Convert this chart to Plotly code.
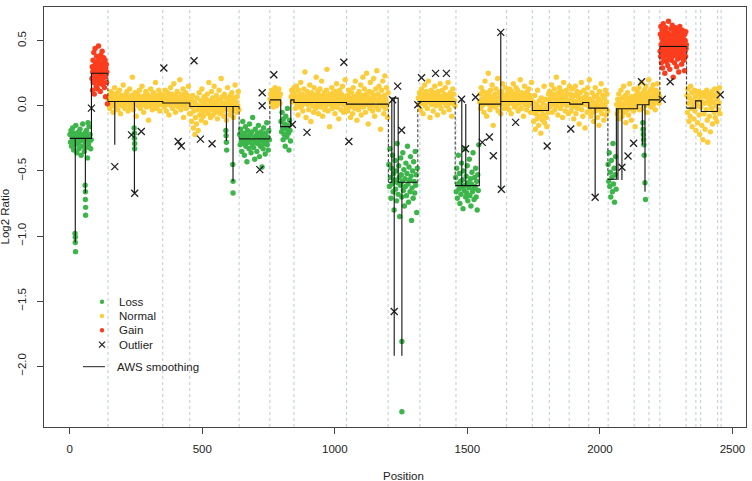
import numpy as np
import plotly.graph_objects as go

# ---------------- DATA ----------------
# Log2 ratios of probes, per run of probes (run start / end positions below)
loss1 = [-.22,-.28,-.19,-.31,-.25,-.17,-.27,-.34,-.21,-.24,-.30,-.15,-.26,-.36,-.23,-.29,-.20,-.33,-.25,-.18,
         -.27,-.38,-.22,-.31,-.14,-.26,-.24,-.35,-.21,-.28,-.32,-.19,-.25,-.40,-.23,-.30,-.16,-.27,-.22,-.33,-.26]
gain1 = [.21,.30,.12,.26,.35,.18,.28,.41,.23,.09,.31,.25,.44,.19,.27,.33,.15,.29,.38,.22,.26,.13,.34,.24,.30,
         .46,.20,.28,.17,.36,.25,.32,.11,.27,.39,.23,.29,.19,.31,.42,.26,.21,.33,.16,.28,.37,.24,.30,.14,.27,
         .35,.22,.07,.29,.25,.32,.18,.26]
norm1 = [.05,.01,.08,-.02,.04,.11,.00,.06,.03,-.05,.09,.02,.14,.04,-.01,.07,.03,.10,-.03,.05,.01,.12,.06,-.06,
         .03,.08,.00,.05,.16,.02,.07,-.02,.04,.09,.01,.11,.05,-.04,.03,.06,.13,-.01,.04,.08,.02,.22,.05,-.03,
         .07,.01,.10,.04,-.08,.06,.03,.09,.00,.05,.12,.02,-.02,.07,.04,.15,.01,.06,-.05,.03,.08,.02,.11,-.01,
         .05,.09,.03,-.11,.06,.00,.04,.13,.02,.07,-.03,.05,.10,.01,.06,.03,.18,-.02,.04,.08,.00,.05,.12,.02,
         -.04,.07,.03,.09,.01,.06]
norm2 = [.03,.08,-.01,.05,.12,.02,-.04,.06,.01,.10,.04,-.07,.07,.02,.14,.00,.05,.09,-.02,.03,.17,.04,.06,-.05,
         .08,.01,.11,.03,-.01,.06,.02,.20,.05,-.03,.09,.00,.04,.13,-.09,.07,.02,.05,.10,-.02,.03,.08,.01,.15,
         .04,-.06]
norm3 = [.02,-.06,.05,-.12,-.01,.08,-.17,-.04,.03,-.22,-.09,.01,-.14,.06,-.03,-.19,.00,.10,-.07,-.02,.04,-.11,
         .13,-.05,.01,-.08,.07,-.02,.03,-.13,.05,-.04,.09,.00,-.06,.18,-.01,.04,-.09,.02,.11,-.03,.06,-.07,.00,
         .15,-.02,.03,-.05,.08,.01,-.10,.05,-.03,.12,.00,-.06,.04,.21,-.01,.07,-.04,.02,-.08,.09,.01,-.02,.06,
         -.11,.03,.14,-.03,.05,.00,-.07,.08,.02,-.04,.10,-.01,.04,-.09,.06,.01,.16,-.02,.03,-.05,.07,.00,.11,-.03]
loss2 = [-.22,-.30,-.18,-.27,-.35,-.24,-.12,-.29,-.21,-.38,-.26,-.16,-.31,-.23,-.43,-.19,-.28,-.25,-.33,-.14,
         -.27,-.22,-.36,-.20,-.30,-.09,-.26,-.32,-.24,-.41,-.18,-.28,-.23,-.35,-.21,-.29,-.15,-.26,-.39,-.24,
         -.31,-.20,-.27,-.47,-.22,-.33,-.17,-.29,-.25,-.37,-.21,-.28,-.13,-.30,-.24,-.34,-.19,-.26]
norm4 = [.05,.09,.02,.12,.04,.07,-.01,.10,.05,.14,.03,.08,.00,.06,.11,.04,.13,.07,.02,.09]
loss3 = [-.12,-.20,-.05,-.17,-.26,-.10,-.22,-.14,-.31,-.08,-.18,-.24,-.02,-.15,-.21,-.34,-.11,-.19,-.27]
norm5 = [.07,.12,.03,.09,.05,.14]
norm6 = [.04,.10,-.02,.07,.15,.01,.05,-.07,.12,.03,.08,-.01,.18,.05,.00,.09,-.04,.06,.13,.02,.26,.07,-.09,.04,
         .11,.01,.06,-.03,.09,.16,.03,-.12,.05,.10,.00,.07,-.05,.14,.04,.08,-.02,.22,.06,.01,.11,-.06,.03,.08,
         .13,-.01,.05,.19,.02,-.08,.07,.04,.10,-.03,.06,.00,.12,.28,.03,-.04,.08,.05,-.16,.09,.01,.06,.14,-.02,
         .04,.10,.00,.07,-.06,.11,.03,.17,-.01,.05,.08,-.10,.02,.12,.06,-.03,.09,.04,.15,.01,-.05,.07,.03,.20,
         .05,-.02]
norm7 = [.02,.08,-.04,.05,.12,-.01,.06,-.09,.03,.10,.00,-.06,.14,.04,.07,-.02,.19,.01,.05,-.11,.09,.03,-.03,.11,
         .06,.00,.16,-.07,.04,.08,.22,-.01,.05,.13,.02,-.05,.09,.25,.01,.07,-.14,.04,.11,-.02,.18,.06,.00,.10,
         -.04,.03,.21,.08,-.08,.05,.13,-.01,.27,.04,.09,-.03,.15,.02,.07,-.18,.06,.12,.00,.19,.03,-.06,.08,.23,
         -.02,.05,.14,.01,-.09,.10]
loss4 = [-.45,-.62,-.33,-.55,-.71,-.48,-.60,-.38,-.66,-.52,-.80,-.57,-.42,-.64,-.50,-.73,-.29,-.59,-.68,-.46,
         -.55,-.85,-.61,-.40,-.53,-.70,-.58,-.36,-.65,-.49,-.77,-.56,-.62,-.44,-.69,-.52,-.31,-.60,-.74,-.47,
         -.57,-.66,-.39,-.54,-.88,-.63,-.50,-.71,-.43,-.58,-.67,-.35,-.61,-.53,-.82,-.48]
norm8 = [.06,.01,.10,.04,-.03,.08,.13,.02,.05,-.06,.09,.03,.16,.00,.07,.11,.04,-.02,.06,.19,.03,.08,-.09,.05,
         .12,.01,.07,.04,-.04,.10,.02,.15,.06,.00,.09,.03,-.07,.11,.05,.08,.01,.17,.04,-.02,.07,.12,.03,.06,
         -.05,.09,.02,.14,.05,.00,.08,.04,.18,.01,-.03,.06,.10,.03,.07,-.08,.05,.13,.02,.09,.04,.00]
loss5 = [-.55,-.66,-.48,-.71,-.60,-.38,-.64,-.52,-.75,-.58,-.68,-.44,-.62,-.57,-.79,-.50,-.65,-.33,-.61,-.70,
         -.54,-.67,-.46,-.73,-.59,-.63,-.41,-.69,-.56,-.77,-.60,-.51,-.66,-.36,-.64,-.72,-.55,-.62,-.48,-.70,
         -.58,-.80,-.53,-.65,-.30]
norm9 = [.03,.09,-.02,.14,.05,.00,.11,.04,-.05,.07,.19,.02,.06,-.08,.10,.03,.25,.01,.08,-.03,.12,.05,.00,.16,
         .04,-.15,.07,.02,.09,-.01,.13,.06,.03,.21,-.04,.05,.10,.01,.07,-.06,.11,.04,.17,.02,.08,-.02,.06,.14,
         .00,.05]
norm10 = [.05,.10,.01,.07,-.03,.13,.04,.08,-.06,.11,.02,.06,.17,.03,-.01,.09,.05,.14,.00,.07,.12,-.04,.04,.08,
          .02,.20,.06,-.02,.10,.03,.07,-.08,.05,.15,.01,.09,.04,-.03,.11,.06,.00,.13,.03,.08,-.05,.05,.18,.02]
norm11 = [-.05,.03,-.12,-.02,.08,-.18,-.06,.01,-.10,.12,-.03,-.15,.04,-.08,-.01,-.21,.06,-.04,-.11,.02,-.07,
          .15,-.13,-.02,.05,-.09,-.16,.00,-.05,.09]
norm12 = [.04,.11,-.01,.07,.02,.16,-.05,.06,.09,.01,.13,-.03,.05,.08,.22,.00,.06,-.07,.10,.03,.14,.04,-.02,.07,
          .11,.01,-.09,.05,.18,.03,.08,-.04,.06,.12,.00,.09,.02,-.06,.04,.15]
norm13 = [.02,.09,-.04,.06,.13,-.01,.04,-.10,.08,.01,.15,-.06,.03,.11,-.02,.07,.00,-.14,.05,.10,.02,.18,-.03,.06,
          -.08,.04,.12,.01,-.17,.07,.03,.09,-.05,.14,.00,.05,.20]
norm14 = [-.02,.05,-.08,.01,.10,-.05,.03,-.12,.07,-.01,.14,-.04,.02,.08,-.09,.00,.05,-.15,.11,-.03,.04,.17,-.06,
          .01,.08,-.02,-.11,.06,.00,.12,-.07,.03,.09,-.04]
loss6 = [-.45,-.58,-.36,-.62,-.51,-.70,-.42,-.55,-.66,-.29,-.60,-.48,-.74,-.53,-.39,-.64]
norm15 = [.01,-.06,.05,-.02,.09,-.10,.03,-.04,.12,.00,-.08,.06,-.01,.15,-.05,.02,.08,-.13,.04,-.03,.10,.01,-.07,
          .06,.17,-.02,.03,-.11,.07,.00,.05,-.04,.13,.02,-.16,.08,.04,-.01,.11,.06,.02,.14,-.03,.07,.09,.03,.18,
          .05,-.02,.10,.04,.12,.00,.08,.15,.03,-.05,.09,.06,.20,.02,.11,.05,-.01,.13,.07,.04,.16,.01,.09,.06,-.03,
          .12,.08,.03,.17,.05,.10,.02,.07]
gain2 = [.42,.55,.38,.61,.47,.33,.52,.44,.58,.29,.49,.40,.63,.46,.36,.54,.43,.50,.25,.57,.45,.39,.60,.48,.34,
         .53,.41,.56,.47,.31,.51,.44,.65,.37,.49,.42,.55,.28,.46,.52,.40,.59,.45,.35,.50,.43,.62,.48,.38,.54,
         .22,.46,.41,.57,.49,.33,.52,.44,.60,.39,.47,.55,.42,.30,.51,.45,.58,.36,.48,.43,.53,.26,.46,.50,.40,
         .61,.44,.37,.56,.47,.41,.52,.32,.49,.45,.58,.39,.54,.43,.48,.35,.51,.46,.27,.55,.42,.50,.38,.57,.44,.47]
norm16 = [.08,-.05,.13,.02,-.12,.06,-.08,.15,-.02,.10,-.16,.04,.01,-.10,.12,-.04,.07,-.19,.03,.09,-.13,.00,.11,
          -.07,-.22,.05,-.01,.08,-.15,.03,-.26,.10,-.06,.02,-.18,.07,-.03,.12,-.11,-.28,.04,.09,-.08,.01,-.20,
          .06,-.02,.11,-.14,.03,.08,-.05,.13,-.09,.00,.07,-.12,.05,.10,-.03,.02,.14,-.06]

# runs: (first position, last position, values)
loss_runs = [(1, 81, loss1), (641, 753, loss2), (797, 833, loss3), (1204, 1311, loss4),
             (1456, 1543, loss5), (2031, 2061, loss6)]
normal_runs = [(145, 350, norm1), (352, 452, norm2), (454, 638, norm3), (756, 795, norm4),
               (835, 846, norm5), (847, 1043, norm6), (1045, 1201, norm7), (1315, 1453, norm8),
               (1546, 1647, norm9), (1649, 1744, norm10), (1746, 1806, norm11), (1808, 1885, norm12),
               (1887, 1960, norm13), (1962, 2029, norm14), (2063, 2225, norm15), (2328, 2453, norm16)]
gain_runs = [(84, 140, gain1), (2227, 2326, gain2)]

# isolated probes
loss_extra_pos = [20, 21, 21, 22, 58, 59, 59, 60, 60, 69, 243, 244, 244, 245, 245, 589, 590, 591, 592,
                  615, 616, 616, 1253, 1253, 2162, 2163, 2164, 2165, 2166, 2167, 2170, 2172]
loss_extra_val = [-.98, -1.01, -1.05, -1.12, -.61, -.66, -.72, -.78, -.84, -.13, -.17, -.21, -.25, -.29, -.33,
                  -.19, -.23, -.28, -.34, -.45, -.58, -.67, -1.81, -2.35, -.13, -.18, -.22, -.26, -.30, -.38,
                  -.59, -.72]
gain_extra_pos = [142]
gain_extra_val = [.015]

outlier_pos = [82, 170, 233, 245, 270, 355, 409, 421, 469, 493, 537, 717, 726, 726, 770, 840, 895, 1034, 1053,
               1218, 1224, 1237, 1252, 1313, 1327, 1380, 1421, 1478, 1493, 1531, 1556, 1583, 1598, 1626, 1628,
               1682, 1801, 1890, 1982, 2083, 2106, 2127, 2157, 2235, 2265, 2454]
outlier_val = [-.018, -.467, -.223, -.672, -.197, .29, -.274, -.308, .346, -.256, -.292, -.49, .10, .0, .238,
               -.143, -.204, .335, -.274, .046, -1.58, .151, -.188, .008, .216, .249, .249, .051, -.33, .066,
               -.281, -.24, -.384, .564, -.641, -.127, -.308, -.178, -.702, -.472, -.385, -.287, .185, .051,
               .185, .085]

# AWS smoothing (step function vertices)
aws_pos = [1, 21, 21, 21, 59, 59, 59, 82, 82, 144, 144, 170, 170, 170, 244, 244, 244, 351, 351, 453, 453,
           591, 591, 591, 616, 616, 616, 639, 639, 755, 755, 796, 796, 834, 834, 846, 846, 1044, 1044, 1202,
           1202, 1215, 1215, 1224, 1224, 1224, 1239, 1239, 1253, 1253, 1253, 1313, 1313, 1454, 1454, 1479,
           1479, 1479, 1494, 1494, 1494, 1545, 1545, 1626, 1626, 1626, 1626, 1745, 1745, 1806, 1806, 1886,
           1886, 1935, 1935, 1958, 1958, 1982, 1982, 1982, 2030, 2030, 2062, 2062, 2068, 2068, 2068, 2083,
           2083, 2083, 2141, 2141, 2160, 2160, 2160, 2170, 2170, 2170, 2185, 2185, 2226, 2226, 2327, 2327,
           2361, 2361, 2382, 2382, 2443, 2443, 2455]
aws_level = [-.25, -.25, -1.05, -.25, -.25, -.67, -.25, -.25, .25, .25, .033, .033, -.30, .033, .033, -.67,
             .033, .033, .022, .022, -.005, -.005, -.27, -.005, -.005, -.58, -.005, -.005, -.254, -.254, .046,
             .046, -.16, -.16, .046, .046, .026, .026, .013, .013, -.587, -.587, .059, .059, -1.92, .059, .059,
             -.587, -.587, -1.92, -.587, -.587, .033, .033, -.613, -.613, .051, -.613, -.613, .013, -.613,
             -.613, .013, .013, .564, -.641, .033, .033, -.036, -.036, .026, .026, .013, .013, .026, .026,
             -.018, -.018, -.70, -.018, -.018, -.564, -.564, -.022, -.022, -.57, -.022, -.022, -.57, -.022,
             -.022, .008, .008, -.30, .008, .008, -.66, .008, .008, .046, .046, .456, .456, -.018, -.018, .038,
             .038, -.044, -.044, .008, .008]
aws_jump_between_chrom = [144, 639, 755, 1202, 1313, 1454, 2030, 2226, 2327]

chrom_boundaries = [144.5, 351, 453, 639, 755, 846, 1044, 1201, 1321, 1457, 1648, 1745, 1809, 1884, 1958,
                    2031, 2129, 2185, 2226, 2325, 2362, 2380, 2444, 2457]

x_ticks = [0, 500, 1000, 1500, 2000, 2500]
y_ticks = [-2.0, -1.5, -1.0, -0.5, 0.0, 0.5]
y_tick_text = ["\u22122.0", "\u22121.5", "\u22121.0", "\u22120.5", "0.0", "0.5"]

legend_labels = ["Loss", "Normal", "Gain", "Outlier"]

# ---------------- STYLE ----------------
GREEN = "#3cb64a"
YELLOW = "#fccd3a"
RED = "#fb3d1e"
INK = "#222222"
FRAME = "#444444"
FONT = "Liberation Sans, Arial, Helvetica, sans-serif"
FS = 11.5

W, H = 752, 481
ML, MR, MT, MB = 44, 6, 7, 54
PW, PH = W - ML - MR, H - MT - MB


def fx(px):
    return (px - ML) / PW


def fy(py):
    return (MT + PH - py) / PH


def runs_to_xy(runs):
    xs, ys = [], []
    for a, b, vals in runs:
        xs.extend(np.linspace(a, b, len(vals)).tolist())
        ys.extend(vals)
    return xs, ys


fig = go.Figure()

nx, ny = runs_to_xy(normal_runs)
lx, ly = runs_to_xy(loss_runs)
gx, gy = runs_to_xy(gain_runs)
lx += loss_extra_pos
ly += loss_extra_val
gx += gain_extra_pos
gy += gain_extra_val

mk = dict(size=5.4, line=dict(width=0))
fig.add_trace(go.Scatter(x=nx, y=ny, mode="markers", marker=dict(color=YELLOW, **mk), name="Normal"))
fig.add_trace(go.Scatter(x=lx, y=ly, mode="markers", marker=dict(color=GREEN, **mk), name="Loss"))
fig.add_trace(go.Scatter(x=gx, y=gy, mode="markers", marker=dict(color=RED, **mk), name="Gain"))
fig.add_trace(go.Scatter(x=outlier_pos, y=outlier_val, mode="markers", name="Outlier",
                         marker=dict(symbol="x-thin-open", size=7, color=INK, line=dict(width=1.3, color=INK))))

# AWS smoothing: solid within chromosomes, dashed jumps across chromosome boundaries
sx, sy, dx, dy = [], [], [], []
jumps = set(aws_jump_between_chrom)
for i in range(len(aws_pos)):
    sx.append(aws_pos[i])
    sy.append(aws_level[i])
    if i < len(aws_pos) - 1 and aws_pos[i] == aws_pos[i + 1] and aws_pos[i] in jumps:
        dx += [aws_pos[i], aws_pos[i + 1], None]
        dy += [aws_level[i], aws_level[i + 1], None]
        sx.append(None)
        sy.append(None)
fig.add_trace(go.Scatter(x=sx, y=sy, mode="lines", line=dict(color="#111111", width=1.1),
                         name="AWS smoothing", connectgaps=False))
fig.add_trace(go.Scatter(x=dx, y=dy, mode="lines", line=dict(color="#333333", width=1, dash="3px,2px"),
                         showlegend=False, connectgaps=False))

shapes = []
for b in chrom_boundaries:
    shapes.append(dict(type="line", xref="x", yref="paper", x0=b, x1=b, y0=0, y1=1, layer="below",
                       line=dict(color="#bccbd6", width=1, dash="3px,3px")))

# manual legend
annotations = []
leg_rows = [301.7, 316.0, 330.3, 344.7]
leg_colors = [GREEN, YELLOW, RED, None]
for lab, row, col in zip(legend_labels, leg_rows, leg_colors):
    if col is not None:
        shapes.append(dict(type="circle", xref="paper", yref="paper", xsizemode="pixel", ysizemode="pixel",
                           xanchor=fx(102), yanchor=fy(row), x0=-2.2, x1=2.2, y0=-2.2, y1=2.2,
                           fillcolor=col, line=dict(width=0)))
    else:
        for s in (1, -1):
            shapes.append(dict(type="line", xref="paper", yref="paper", xsizemode="pixel", ysizemode="pixel",
                               xanchor=fx(102), yanchor=fy(row), x0=-3, x1=3, y0=-3 * s, y1=3 * s,
                               line=dict(color=INK, width=1.2)))
    annotations.append(dict(text=lab, xref="paper", yref="paper", x=fx(116.5), y=fy(row), xanchor="left",
                            yanchor="middle", showarrow=False, font=dict(size=FS, color=INK, family=FONT)))
shapes.append(dict(type="line", xref="paper", yref="paper", x0=fx(83), x1=fx(105), y0=fy(366.7), y1=fy(366.7),
                   line=dict(color=INK, width=1)))
annotations.append(dict(text="AWS smoothing", xref="paper", yref="paper", x=fx(114.5), y=fy(366.7),
                        xanchor="left", yanchor="middle", showarrow=False,
                        font=dict(size=FS, color=INK, family=FONT)))

# axis titles
annotations.append(dict(text="Position", xref="paper", yref="paper", x=fx(403), y=fy(476), xanchor="center",
                        yanchor="middle", showarrow=False, font=dict(size=FS, color=INK, family=FONT)))
annotations.append(dict(text="Log2 Ratio", xref="paper", yref="paper", x=fx(4.5), y=fy(217), xanchor="center",
                        yanchor="middle", textangle=-90, showarrow=False,
                        font=dict(size=FS, color=INK, family=FONT)))

axis_common = dict(showgrid=False, zeroline=False, showline=True, mirror=True, linecolor=FRAME, linewidth=1,
                   ticks="outside", ticklen=6, tickcolor=FRAME, tickwidth=1,
                   tickfont=dict(size=FS, color=INK, family=FONT))

fig.update_layout(
    width=W, height=H, margin=dict(l=ML, r=MR, t=MT, b=MB, autoexpand=False),
    paper_bgcolor="white", plot_bgcolor="white", showlegend=False,
    font=dict(family=FONT, size=FS, color=INK),
    xaxis=dict(range=[-97, 2551], tickmode="array", tickvals=x_ticks, ticklabelstandoff=5, **axis_common),
    yaxis=dict(range=[-2.467, 0.759], tickmode="array", tickvals=y_ticks, ticktext=y_tick_text,
               tickangle=-90, ticklabelstandoff=6, **axis_common),
    shapes=shapes, annotations=annotations,
)

fig.write_html("out.html")
